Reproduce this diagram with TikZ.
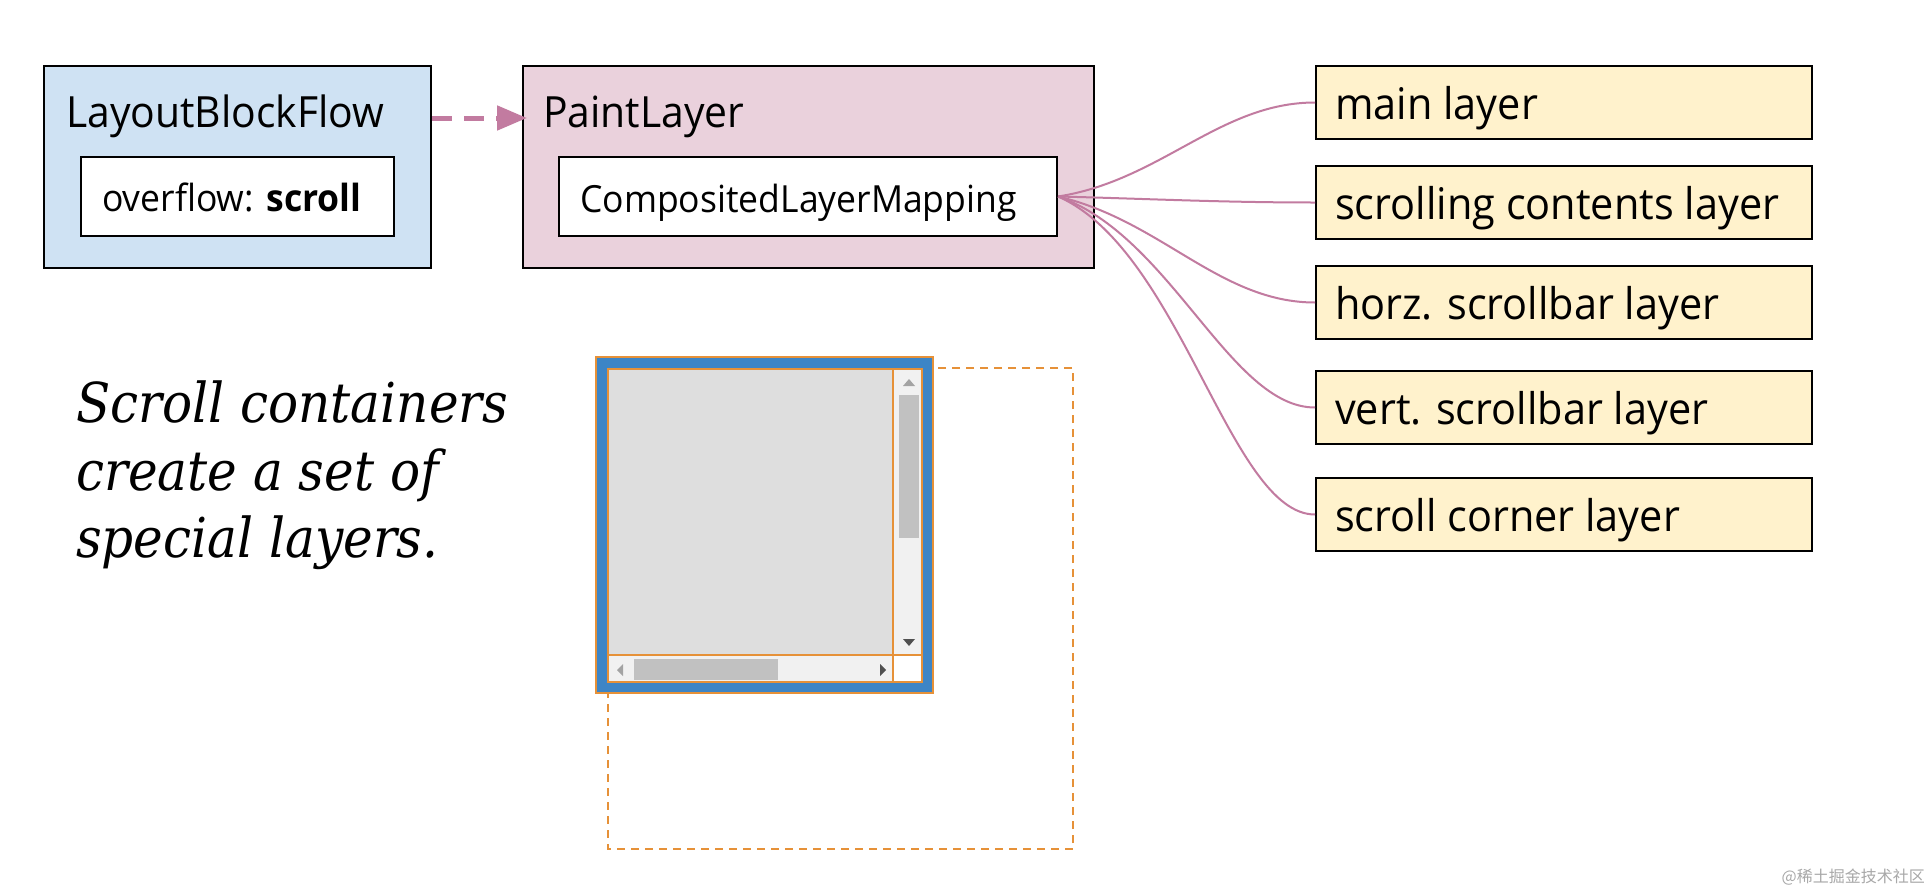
\documentclass[tikz,border=0pt]{standalone}
\usepackage{fontspec}
\setmainfont{Open Sans}[FakeStretch=0.95]
\newfontfamily\serifit{DejaVu Serif}[FakeStretch=0.91]
\newfontfamily\cjkfont{Noto Sans CJK SC}
\usetikzlibrary{arrows.meta}
\definecolor{lbfblue}{HTML}{CFE2F3}
\definecolor{plpink}{HTML}{EAD1DC}
\definecolor{layeryellow}{HTML}{FFF2CC}
\definecolor{connpink}{HTML}{C27BA0}
\definecolor{sborange}{HTML}{E69138}
\definecolor{sbblue}{HTML}{3D85C6}
\definecolor{sbgrey}{HTML}{DEDEDE}
\definecolor{sbtrack}{HTML}{F1F1F1}
\definecolor{sbthumb}{HTML}{C1C1C1}
\definecolor{sbarrowlight}{HTML}{A3A3A3}
\definecolor{sbarrowdark}{HTML}{505050}
\definecolor{wmgrey}{HTML}{A8A8A8}
\tikzset{
  box/.style={draw=black, line width=2pt, inner sep=0pt, anchor=north west},
  titlelbl/.style={inner sep=0pt, anchor=base west, font=\fontsize{43}{50}\selectfont},
  lbl/.style={inner sep=0pt, anchor=base west, font=\fontsize{37.4}{44}\selectfont},
  biglbl/.style={inner sep=0pt, anchor=base west, font=\fontsize{43.6}{50}\selectfont},
  layerbox/.style={box, fill=layeryellow, minimum width=496pt, minimum height=73pt},
  conn/.style={draw=connpink, line width=2pt},
  dasharrow/.style={draw=connpink, line width=5pt, dash pattern=on 20pt off 12pt,
    -{Triangle[length=30pt,width=24pt]}},
  note/.style={inner sep=0pt, anchor=base west, font=\serifit\itshape\fontsize{55}{67}\selectfont},
  sbline/.style={draw=sborange, line width=2pt},
}
\begin{document}
\begin{tikzpicture}[x=1pt,y=-1pt]
\useasboundingbox[fill=white] (0,0) rectangle (1932,894);

% top-left boxes
\node[box, fill=lbfblue, minimum width=387pt, minimum height=202pt] (lbf) at (43,65) {};
\node[titlelbl] (lbft) at (66,127) {LayoutBlockFlow};
\node[box, fill=white, minimum width=313pt, minimum height=79pt] (ovf) at (80,156) {};
\node[lbl] (ovft) at (102,211) {overflow: \textbf{scroll}};

\node[box, fill=plpink, minimum width=571pt, minimum height=202pt] (pl) at (522,65) {};
\node[titlelbl] (plt) at (543,127) {PaintLayer};
\node[box, fill=white, minimum width=498pt, minimum height=79pt] (clm) at (558,156) {};
\node[lbl] (clmt) at (580,212) {CompositedLayerMapping};

\draw[dasharrow] ([yshift=-53pt]lbf.north east) -- ([xshift=5pt,yshift=-53pt]pl.north west);

% layer boxes
\node[layerbox] (main) at (1315,65) {};
\node[biglbl] at ([xshift=20pt,yshift=-17pt]main.west) {main layer};
\node[layerbox] (scc) at (1315,165) {};
\node[biglbl] at ([xshift=20pt,yshift=-17pt]scc.west) {scrolling contents layer};
\node[layerbox] (hsb) at (1315,265) {};
\node[biglbl] at ([xshift=20pt,yshift=-17pt]hsb.west) {horz. scrollbar layer};
\node[layerbox] (vsb) at (1315,370) {};
\node[biglbl] at ([xshift=20pt,yshift=-17pt]vsb.west) {vert. scrollbar layer};
\node[layerbox] (corner) at (1315,477) {};
\node[biglbl] at ([xshift=20pt,yshift=-17pt]corner.west) {scroll corner layer};

% connectors
\draw[conn] (clm.east) .. controls +(103,-16) and +(-95,0) .. (main.west);
\draw[conn] (clm.east) .. controls +(83,2) and +(-95,0) .. (scc.west);
\draw[conn] (clm.east) .. controls +(103,24) and +(-95,0) .. (hsb.west);
\draw[conn] (clm.east) .. controls +(113,39) and +(-85,0) .. (vsb.west);
\draw[conn] (clm.east) .. controls +(123,54) and +(-85,0) .. (corner.west);

% note text
\node[note] (n1) at (76,422) {Scroll containers};
\node[note] (n2) at (76,490) {create a set of};
\node[note] (n3) at (76,557) {special layers.};

% scroll widget
\draw[sborange, line width=2pt, dash pattern=on 8pt off 6pt] (608,368) rectangle (1073,849);
\fill[sbblue] (596,357) rectangle (933,693);
\fill[sbgrey] (608,369) rectangle (893,655);
\fill[sbtrack] (893,369) rectangle (922,655);
\fill[sbtrack] (608,655) rectangle (893,682);
\fill[white] (893,655) rectangle (922,682);
\fill[sbthumb] (899,395) rectangle (919,538);
\fill[sbthumb] (634,659) rectangle (778,680);
\fill[sbarrowlight] (903,386) -- (915,386) -- (909,379) -- cycle;
\fill[sbarrowdark] (903,639) -- (915,639) -- (909,646) -- cycle;
\fill[sbarrowlight] (623,664) -- (623,676) -- (617,670) -- cycle;
\fill[sbarrowdark] (880,664) -- (880,676) -- (886,670) -- cycle;
\draw[sbline] (596,357) rectangle (933,693);
\draw[sbline] (608,369) rectangle (922,682);
\draw[sbline] (893,369) -- (893,682);
\draw[sbline] (608,655) -- (922,655);

% watermark
\node[inner sep=0pt, anchor=east, text=wmgrey, font=\cjkfont\fontsize{16}{18}\selectfont] (wm) at (1925,877) {@稀土掘金技术社区};
\end{tikzpicture}
\end{document}
